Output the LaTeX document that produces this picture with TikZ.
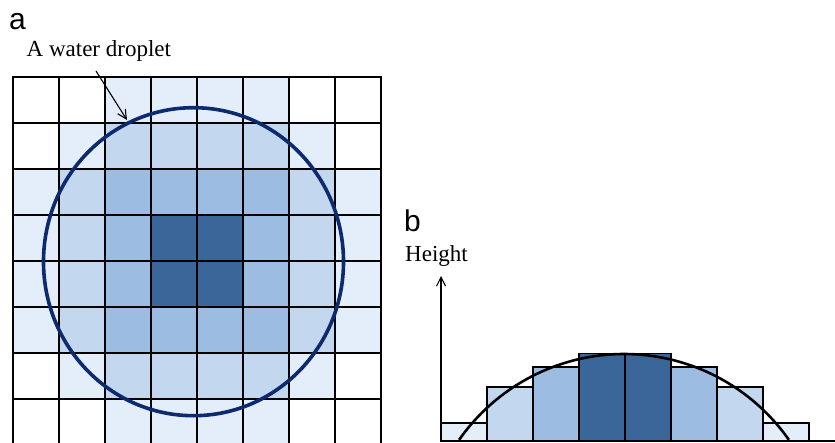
\documentclass[tikz,border=0pt]{standalone}
\usepackage{fontspec}
\newfontfamily\serifA{Liberation Serif}
\newfontfamily\sansA{Liberation Sans}
\usetikzlibrary{arrows.meta}
\definecolor{lv0}{HTML}{FFFFFF}
\definecolor{lv1}{HTML}{E3EEFA}
\definecolor{lv2}{HTML}{C3D7EE}
\definecolor{lv3}{HTML}{9DBCE2}
\definecolor{lv4}{HTML}{3A6699}
\definecolor{navy}{HTML}{0E2A6E}
\tikzset{
  cell/.style={draw=black, line width=1.3pt, minimum size=46pt, inner sep=0pt, outer sep=0pt},
  barbox/.style={draw=black, line width=1.3pt, minimum width=46pt, inner sep=0pt, outer sep=0pt, anchor=south west},
  serlabel/.style={font=\serifA\fontsize{23}{27}\selectfont, inner sep=0pt, anchor=base west},
  panel/.style={font=\sansA\fontsize{30}{34}\selectfont, inner sep=0pt, anchor=base west},
  thinarrow/.style={line width=1.1pt, -{Straight Barb[length=9pt,width=9pt,line width=1.1pt]}},
}
\begin{document}
\begin{tikzpicture}[x=1pt,y=-1pt]
\useasboundingbox (0,0) rectangle (835,443);
\begin{scope}
\clip (0,0) rectangle (835,443);
\foreach \r/\row in {0/{0,0,1,1,1,1,0,0},1/{0,1,2,2,2,2,1,0},2/{1,2,3,3,3,3,2,1},3/{1,2,3,4,4,3,2,1},4/{1,2,3,4,4,3,2,1},5/{1,2,3,3,3,3,2,1},6/{0,1,2,2,2,2,1,0},7/{0,0,1,1,1,1,0,0}}{
  \foreach \v [count=\c from 0] in \row {
    \node[cell, fill=lv\v] (g-\r-\c) at ({36+46*\c},{100+46*\r}) {};
  }
}
\end{scope}
% droplet
\draw[navy, line width=3.6pt] (193.5,261.7) ellipse [x radius=150, y radius=154];
% labels panel a
\node[panel] (lab-a) at (9,30) {a};
\node[serlabel] (droptext) at (26.5,56.5) {A water droplet};
\coordinate (arrstart) at (96,71);
\coordinate (arrend) at (127,120);
\draw[thinarrow] (arrstart) -- (arrend);
% panel b
\node[panel] (lab-b) at (404,232) {b};
\node[serlabel] (heighttext) at (405,261.5) {Height};
\foreach \i/\h/\v in {0/18/1,1/54/2,2/74/3,3/87.5/4,4/87.5/4,5/74/3,6/54/2,7/18/1}{
  \node[barbox, fill=lv\v, minimum height=\h pt] (bar-\i) at ({441+46*\i},441) {};
}
\coordinate (origin) at (441,441);
\coordinate (xend) at (835,441);
\coordinate (ytop) at (441,276);
\draw[line width=1.4pt] (origin) -- (xend);
\draw[thinarrow] (origin) -- (ytop);
\draw[line width=2.6pt] plot[domain=35:145, samples=80] ({624+201.3*cos(\x)},{555.3-201.3*sin(\x)});
\end{tikzpicture}
\end{document}
